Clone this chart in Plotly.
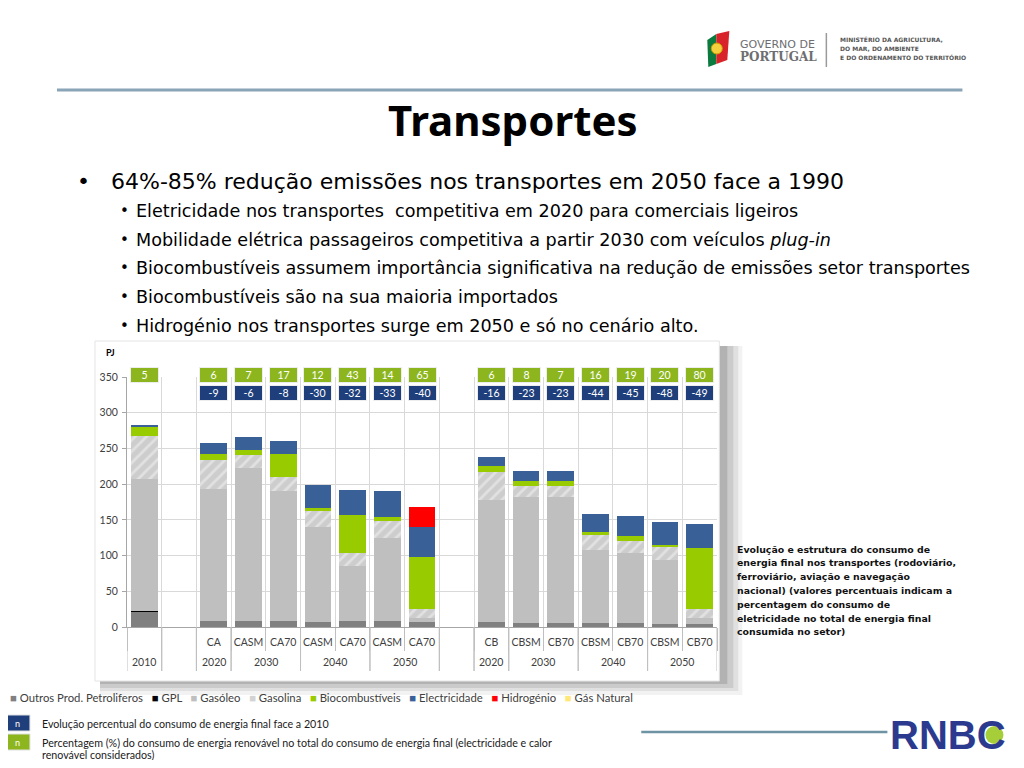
import plotly.graph_objects as go

# ---------------- data ----------------
years     = ["2010", "", "2020", "2030", "2030", "2040", "2040", "2050", "2050",
             "", "2020", "2030", "2030", "2040", "2040", "2050", "2050"]
scenarios = ["", "", "CA", "CASM", "CA70", "CASM", "CA70", "CASM", "CA70",
             "", "CB", "CBSM", "CB70", "CBSM", "CB70", "CBSM", "CB70"]

outros   = [22, None, 8.5, 8, 8, 7.5, 8, 8, 7, None, 7, 5.6, 5.6, 5.6, 5.6, 4.7, 4.7]
gpl      = [1, None, 0, 0, 0, 0, 0, 0, 0, None, 0, 0, 0, 0, 0, 0, 0]
gasoleo  = [184, None, 185, 214.5, 183, 132, 77, 116.5, 6, None, 171, 177, 177, 102.5, 98, 89, 8.4]
gasolina = [60, None, 41, 18, 18.6, 23, 19, 24, 12.6, None, 38.4, 15.4, 15.4, 20.6, 17.3, 19, 11.7]
biocomb  = [14, None, 8, 7.5, 32, 4, 53, 5, 73, None, 9.3, 6.6, 6.6, 3.7, 6.5, 2.8, 85.6]
electric = [1.5, None, 15, 17.5, 18.7, 32, 35, 37, 42, None, 12.7, 13.5, 13.5, 25.8, 28, 31.8, 33.3]
hidrog   = [0, None, 0, 0, 0, 0, 0, 0, 28, None, 0, 0, 0, 0, 0, 0, 0]
gas_nat  = [0, None, 0, 0, 0, 0, 0, 0, 0, None, 0, 0, 0, 0, 0, 0, 0]

renew_pct = ["5", "", "6", "7", "17", "12", "43", "14", "65",
             "", "6", "8", "7", "16", "19", "20", "80"]
evol_pct  = ["", "", "-9", "-6", "-8", "-30", "-32", "-33", "-40",
             "", "-16", "-23", "-23", "-44", "-45", "-48", "-49"]

series_names = ["Outros Prod. Petroliferos", "GPL", "Gasóleo", "Gasolina",
                "Biocombustíveis", "Electricidade", "Hidrogénio", "Gás Natural"]
series_vals = [outros, gpl, gasoleo, gasolina, biocomb, electric, hidrog, gas_nat]
series_cols = ["#808080", "#000000", "#BFBFBF", "#D3D3D3",
               "#99CC00", "#3A6098", "#FF0000", "#FFE87A"]

bullet_main = "64%-85% redução emissões nos transportes em 2050 face a 1990"
bullet_subs = [
    "Eletricidade nos transportes  competitiva em 2020 para comerciais ligeiros",
    "Mobilidade elétrica passageiros competitiva a partir 2030 com veículos <i>plug-in</i>",
    "Biocombustíveis assumem importância significativa na redução de emissões setor transportes",
    "Biocombustíveis são na sua maioria importados",
    "Hidrogénio nos transportes surge em 2050 e só no cenário alto.",
]
side_note = ["Evolução e estrutura do consumo de",
             "energia final nos transportes (rodoviário,",
             "ferroviário, aviação e navegação",
             "nacional) (valores percentuais indicam a",
             "percentagem do consumo de",
             "eletricidade no total de energia final",
             "consumida no setor)"]

# ---------------- geometry helpers (screen px -> paper) ----------------
OFF = 8
W, H = 1008, 752
X0, X1 = 127.0, 716.7
Y0, Y1 = 627.0, 377.0


def px(sx):
    return (sx - X0) / (X1 - X0)


def py(sy):
    return (Y0 - sy) / (Y0 - Y1)


SLIDE = "DejaVu Sans"
CHART = "Lato"

keys = [f"{y}|{s}|{i}" for i, (y, s) in enumerate(zip(years, scenarios))]

fig = go.Figure()
for name, vals, col in zip(series_names, series_vals, series_cols):
    marker = dict(color=col, line=dict(width=0))
    if name == "Gasolina":
        marker["pattern"] = dict(shape="/", fgcolor="#F6F6F6", bgcolor="#CDCDCD",
                                 size=8, solidity=0.35)
    fig.add_trace(go.Bar(x=keys, y=vals, name=name, marker=marker, showlegend=False))

annotations = []
shapes = []


def txt(sx, sy, s, size, color="#000000", family=SLIDE, anchor="left"):
    annotations.append(dict(xref="paper", yref="paper", x=px(sx), y=py(sy), text=s,
                            showarrow=False, xanchor=anchor, yanchor="middle",
                            font=dict(size=size, color=color, family=family)))


# chart box with shadow
for (x1, y1, a) in [(742, 695, 0.05), (738, 691, 0.07), (733, 688, 0.09), (727, 684, 0.12)]:
    shapes.append(dict(type="rect", xref="paper", yref="paper", layer="below",
                       x0=px(100), x1=px(x1), y0=py(346), y1=py(y1),
                       fillcolor=f"rgba(0,0,0,{a})", line=dict(width=0)))
shapes.append(dict(type="rect", xref="paper", yref="paper", layer="below",
                   x0=px(95), x1=px(719), y0=py(341), y1=py(681),
                   fillcolor="white", line=dict(color="#E4E4E4", width=1)))

# header line
shapes.append(dict(type="line", xref="paper", yref="paper", x0=px(57), x1=px(962),
                   y0=py(90), y1=py(90), line=dict(color="#8AA4B8", width=3)))
# RNBC line
shapes.append(dict(type="line", xref="paper", yref="paper", x0=px(641), x1=px(887),
                   y0=py(732), y1=py(732), line=dict(color="#6E93A3", width=2.5)))

# Title + bullets
txt(513, 119, "<b>Transportes</b>", 42, family="Noto Sans", anchor="center")
txt(75, 181, "•", 22)
txt(109, 181, bullet_main, 22)
for i, line in enumerate(bullet_subs):
    yy = 211 + i * 28.7
    txt(118, yy, "•", 15)
    txt(134, yy, line, 17.6)

# side note
for i, line in enumerate(side_note):
    txt(735, 549 + i * 13.8, f"<b>{line}</b>", 9.4, color="#111111")

# PJ label
txt(104, 352, "<b>PJ</b>", 9, family=CHART)

# number boxes above bars
for k, r, e in zip(keys, renew_pct, evol_pct):
    if r:
        annotations.append(dict(xref="x", yref="paper", x=k, y=py(374.5), text=r,
                                xanchor="center", yanchor="middle",
                                showarrow=False, bgcolor="#8DB61E", bordercolor="#EDEDED",
                                borderwidth=1, borderpad=0, width=27, height=14,
                                font=dict(color="white", size=10.5, family=CHART)))
    if e:
        annotations.append(dict(xref="x", yref="paper", x=k, y=py(393), text=e,
                                xanchor="center", yanchor="middle",
                                showarrow=False, bgcolor="#1F3F7C", bordercolor="#EDEDED",
                                borderwidth=1, borderpad=0, width=27, height=14,
                                font=dict(color="white", size=10.5, family=CHART)))

# year labels (second category row) and group separators
groups = []
start = 0
for i in range(1, len(years) + 1):
    if i == len(years) or years[i] != years[start] or years[i] == "" or years[start] == "":
        groups.append((start, i - 1, years[start]))
        start = i
for g0, g1, yr in groups:
    if yr:
        annotations.append(dict(xref="x", yref="paper", x=(g0 + g1) / 2, y=py(662), text=yr,
                                xanchor="center", yanchor="middle",
                                showarrow=False, font=dict(size=10.5, color="#404040", family=CHART)))
    for b in (g0 - 0.5, g1 + 0.5):
        shapes.append(dict(type="line", xref="x", yref="paper", x0=b, x1=b,
                           y0=py(627), y1=py(671), line=dict(color="#BFBFBF", width=1)))

# legend (manual, compact like the original)
leg = "   ".join(f'<span style="color:{c}">■</span> {n}' for n, c in zip(series_names, series_cols))
txt(8, 697, leg, 11.3, color="#404040", family=CHART)

# bottom notes
for (yb, col, note) in [(723, "#1F3F7C", "Evolução percentual do consumo de energia final face a 2010"),
                        (742, "#8DB61E", "Percentagem (%) do consumo de energia renovável no total do consumo de energia final (electricidade e calor")]:
    shapes.append(dict(type="rect", xref="paper", yref="paper", x0=px(5), x1=px(30),
                       y0=py(yb - 8), y1=py(yb + 8), fillcolor=col,
                       line=dict(color="#E0E0E0", width=1)))
    txt(17.5, yb, "n", 9, color="white", family=CHART, anchor="center")
    txt(40, yb, note, 10.7, color="#1A1A1A", family=CHART)
txt(40, 754, "renovável considerados)", 10.7, color="#1A1A1A", family=CHART)

# RNBC logo
txt(888, 735, '<b>RNBC</b>', 40, color="#2B3A8E", family="Liberation Sans")
shapes.append(dict(type="circle", xref="paper", yref="paper", x0=px(985), x1=px(1003),
                   y0=py(726), y1=py(744), fillcolor="#A6CE39", line=dict(width=0)))

# Governo de Portugal logo
shapes.append(dict(type="path", xref="paper", yref="paper",
                   path=f"M {px(707)},{py(40)} L {px(716)},{py(34)} L {px(716)},{py(64)} L {px(708)},{py(67)} Z",
                   fillcolor="#0B7A3E", line=dict(width=0)))
shapes.append(dict(type="path", xref="paper", yref="paper",
                   path=f"M {px(716)},{py(34)} L {px(729)},{py(31)} L {px(727)},{py(60)} L {px(716)},{py(64)} Z",
                   fillcolor="#D8232A", line=dict(width=0)))
shapes.append(dict(type="circle", xref="paper", yref="paper", x0=px(711), x1=px(722),
                   y0=py(43), y1=py(54), fillcolor="#F4D03F", line=dict(color="#C99A00", width=1)))
shapes.append(dict(type="line", xref="paper", yref="paper", x0=px(826), x1=px(826),
                   y0=py(33), y1=py(67), line=dict(color="#9A9A9A", width=1.5)))
txt(738, 44, "GOVERNO DE", 11, color="#6D6E71")
txt(738, 57, "<b>PORTUGAL</b>", 12, color="#6D6E71", family="DejaVu Serif")
for i, l in enumerate(["MINISTÉRIO DA AGRICULTURA,", "DO MAR, DO AMBIENTE",
                       "E DO ORDENAMENTO DO TERRITÓRIO"]):
    txt(838, 39 + i * 9, f"<b>{l}</b>", 6, color="#555555")

fig.update_layout(
    width=W, height=H,
    margin=dict(l=X0 - OFF, r=OFF + W - X1, t=Y1 - OFF, b=OFF + H - Y0, pad=0),
    paper_bgcolor="white", plot_bgcolor="rgba(0,0,0,0)",
    barmode="stack", bargap=0.23, showlegend=False,
    annotations=annotations, shapes=shapes,
    font=dict(family=CHART, color="#404040"),
)
fig.update_xaxes(type="category", categoryorder="array", categoryarray=keys,
                 tickmode="array", tickvals=keys, ticktext=scenarios,
                 tickson="boundaries", ticks="outside", ticklen=23, tickcolor="#BFBFBF",
                 ticklabelstandoff=5, tickangle=0,
                 showline=True, linecolor="#A6A6A6", linewidth=1,
                 showgrid=True, gridcolor="#D9D9D9", gridwidth=1,
                 tickfont=dict(size=10.5, color="#404040", family=CHART),
                 range=[-0.5, len(keys) - 0.5], fixedrange=True)
fig.update_yaxes(range=[0, 350], dtick=50, tick0=0,
                 showline=True, linecolor="#A6A6A6", linewidth=1,
                 ticks="outside", ticklen=4, tickcolor="#A6A6A6",
                 showgrid=True, gridcolor="#D9D9D9", gridwidth=1, zeroline=False,
                 tickfont=dict(size=10.5, color="#404040", family=CHART),
                 ticklabelstandoff=2, fixedrange=True)

fig.write_html("out.html")
